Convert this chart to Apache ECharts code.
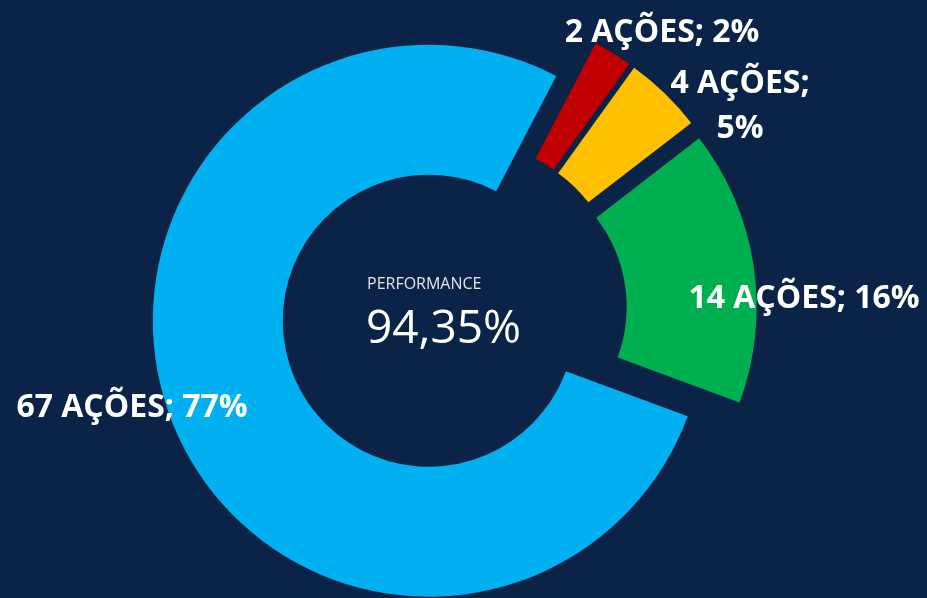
<!DOCTYPE html>
<html>
<head>
<meta charset="utf-8">
<script src="https://cdn.jsdelivr.net/npm/echarts@6/dist/echarts.min.js"></script>
<style>
  html, body { margin: 0; padding: 0; background: #0b2346; }
  #chart { width: 927px; height: 598px; }
</style>
</head>
<body>
<div id="chart"></div>
<script>
// dados do gráfico
var categorias = ['Vermelho', 'Amarelo', 'Verde', 'Azul'];
var acoes = [2, 4, 14, 67];
var cores = ['#c00000', '#ffc000', '#00b050', '#00b0f0'];
var tituloCentro = 'PERFORMANCE';
var valorCentro = '94,35%';

// onde fica cada rótulo (centro do texto) e se quebra linha
var posRotulos = [[662, 33], [740, 106], [804, 299], [132, 408]];
var quebraLinha = [false, true, false, false];

var chart = echarts.init(document.getElementById('chart'));

var total = acoes.reduce(function (a, b) { return a + b; }, 0);

var dados = categorias.map(function (nome, i) {
    return { name: nome, value: acoes[i], selected: true, itemStyle: { color: cores[i] } };
});

// rótulos "N AÇÕES; X%" montados a partir dos dados
var rotulos = acoes.map(function (v, i) {
    var pct = Math.round(v / total * 100);
    return {
        type: 'text',
        z: 100,
        style: {
            x: posRotulos[i][0],
            y: posRotulos[i][1],
            text: v + ' AÇÕES;' + (quebraLinha[i] ? '\n' : ' ') + pct + '%',
            font: 'bold 32px "Open Sans"',
            lineHeight: 45,
            fill: '#ffffff',
            align: 'center',
            verticalAlign: 'middle'
        }
    };
});

var option = {
    backgroundColor: '#0b2346',
    animation: false,
    series: [{
        type: 'pie',
        center: [454, 311],
        radius: [146, 276],
        startAngle: 62.5,
        clockwise: true,
        selectedMode: 'multiple',
        selectedOffset: 27,
        data: dados,
        itemStyle: { borderWidth: 0 },
        select: { itemStyle: { borderWidth: 0 } },
        emphasis: { disabled: true },
        label: { show: false },
        labelLine: { show: false }
    }],
    graphic: rotulos.concat([
        {
            type: 'text',
            z: 100,
            style: {
                x: 367, y: 284, text: tituloCentro,
                font: '16px "Open Sans"', fill: '#e6e6e6', verticalAlign: 'middle'
            }
        },
        {
            type: 'text',
            z: 100,
            style: {
                x: 366, y: 330, text: valorCentro,
                font: '46px "Open Sans"', fill: '#ffffff', verticalAlign: 'middle'
            }
        }
    ])
};

chart.setOption(option);
</script>
</body>
</html>
